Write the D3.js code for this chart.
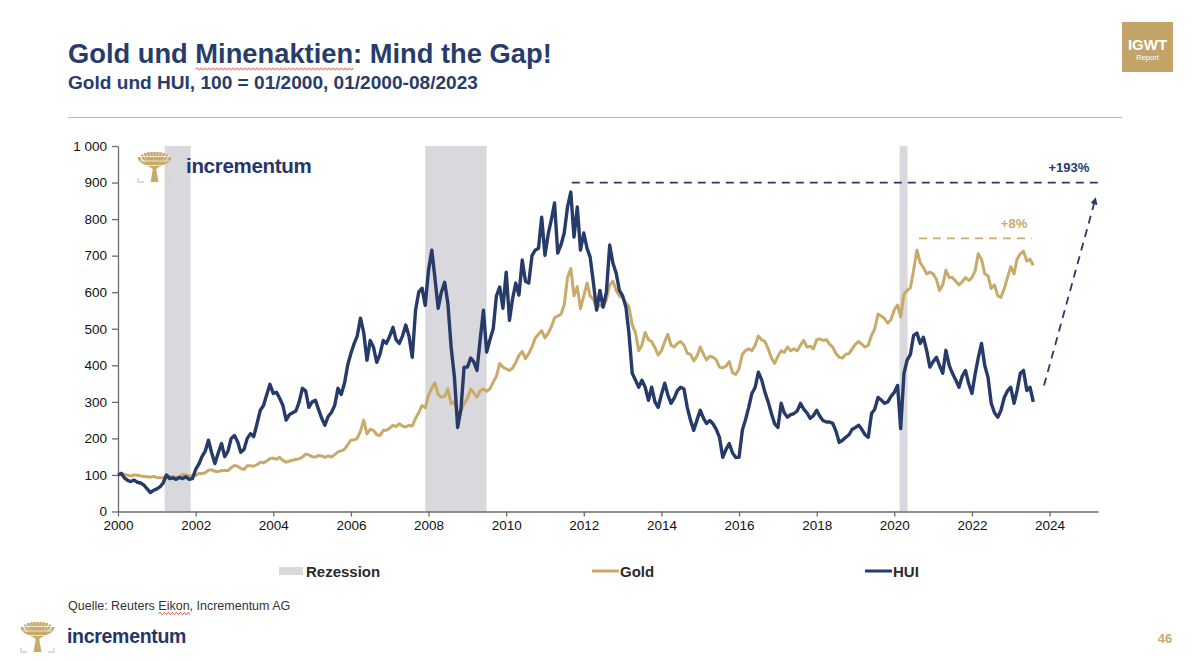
<!DOCTYPE html>
<html><head><meta charset="utf-8">
<script src="https://cdn.jsdelivr.net/npm/d3@7"></script>
<style>
body{margin:0;background:#fff}
svg{display:block}
text{font-family:"Liberation Sans",Arial,Helvetica,sans-serif}
</style>
</head><body>
<svg id="c" width="1200" height="662"></svg>
<script>
// ---------------- DATA ----------------
const seriesStart = [2000, 0]; // January 2000, monthly values
const goldValues = [
 100,105,101,99,97,100,99,97,96,95,94,96,
 93,92,92,92,96,95,94,96,101,100,97,97,
 99,104,104,106,113,114,110,109,112,112,112,120,
 126,124,118,115,125,125,124,128,135,133,138,145,
 146,143,148,140,135,138,140,143,144,149,157,155,
 150,149,153,152,148,152,149,155,163,166,170,182,
 195,196,200,220,250,212,225,222,210,208,222,222,
 228,236,232,240,234,231,236,234,255,270,290,284,
 318,338,352,320,313,315,335,295,300,270,275,295,
 310,335,325,313,330,335,329,336,354,370,405,395,
 390,386,392,408,427,438,418,432,450,475,485,495,
 475,488,505,530,535,540,565,640,665,590,615,555,
 590,625,590,580,556,565,560,580,620,630,605,590,
 585,570,560,510,490,440,455,490,470,465,448,428,
 440,465,485,455,450,460,465,455,433,430,412,425,
 450,430,415,425,422,415,395,393,398,410,380,375,
 390,430,440,445,440,455,480,470,465,445,420,405,
 425,440,435,450,440,445,440,455,468,450,452,445,
 470,472,468,470,458,450,432,422,420,430,432,445,
 458,465,458,450,455,482,500,540,535,528,515,525,
 552,565,532,595,605,612,660,715,680,668,650,655,
 650,635,605,620,660,640,640,630,620,628,640,632,
 640,660,705,690,650,645,610,620,590,586,610,640,
 670,650,690,705,712,685,690,674
];
const huiValues = [
 100,104,92,85,82,86,80,78,72,62,52,58,
 62,68,78,100,90,92,88,93,90,95,88,90,
 115,130,150,165,195,160,131,160,186,150,165,200,
 208,190,162,170,200,213,205,240,277,290,320,348,
 323,326,310,290,250,265,270,275,300,337,330,285,
 300,304,280,255,236,260,271,290,337,320,350,400,
 433,460,480,529,490,414,468,450,408,430,468,460,
 480,504,470,460,480,510,480,422,551,600,611,564,
 660,715,640,556,600,627,570,449,367,230,280,395,
 395,420,410,386,470,551,436,470,500,590,614,556,
 655,523,580,625,592,688,630,625,700,715,720,805,
 701,760,797,844,707,730,762,833,874,751,833,715,
 762,720,696,625,551,605,559,600,729,680,652,605,
 590,559,488,378,360,340,359,340,304,340,300,285,
 320,351,320,296,310,331,340,335,285,250,222,250,
 277,255,241,249,240,225,203,148,170,186,160,148,
 148,222,250,285,323,340,381,360,326,300,268,240,
 230,296,270,258,265,268,275,296,280,270,255,262,
 277,260,249,245,245,241,220,189,195,203,210,225,
 230,236,225,210,203,268,280,312,305,296,300,315,
 326,345,227,378,414,430,482,488,460,477,440,395,
 410,422,400,378,441,400,378,360,340,370,386,350,
 323,378,420,460,400,367,296,270,258,277,312,330,
 340,296,330,378,386,331,340,300
];
const recessions = [
 ["2001-03-15","2001-11-15"],
 ["2007-12-01","2009-06-30"],
 ["2020-02-20","2020-05-05"]
];
const yTicks = [0,100,200,300,400,500,600,700,800,900,1000];
const xTickYears = [2000,2002,2004,2006,2008,2010,2012,2014,2016,2018,2020,2022,2024];
const legendItems = ["Rezession","Gold","HUI"];
// annotations (data units)
const huiGapLine = {from:"2011-09-10", to:"2025-04-01", value:900, label:"+193%", labelAt:"2024-07-01", labelValue:929};
const goldGapLine = {from:"2020-08-20", to:"2023-07-15", value:747, label:"+8%", labelAt:"2023-02-01", labelValue:776};
const gapArrow = {from:["2023-11-10",345], to:["2025-03-10",858]};

// ---------------- SETUP ----------------
const svg = d3.select("#c");
const NAVY = "#263b69", GOLD = "#c8aa6a", REC = "#d9d8dd", AX = "#6b6b6b";
const parse = d3.timeParse("%Y-%m-%d");
const monthDate = i => new Date(seriesStart[0], seriesStart[1] + i, 1);

const x = d3.scaleTime().domain([new Date(2000,0,1), new Date(2025,3,1)]).range([118, 1098]);
const y = d3.scaleLinear().domain([0,1000]).range([511.5, 146]);

// header
function fitText(sel, w){
  const n = sel.node(); const fs = parseFloat(sel.attr("font-size"));
  const cur = n.getComputedTextLength(); sel.attr("font-size", (fs*w/cur).toFixed(2));
}
const title = svg.append("text").attr("x",68).attr("y",63).attr("font-size",27).attr("font-weight","bold")
  .attr("fill","#283c6a").text("Gold und Minenaktien: Mind the Gap!");
fitText(title, 484);
const sub = svg.append("text").attr("x",68).attr("y",89).attr("font-size",17).attr("font-weight","bold")
  .attr("fill","#283c6a").text("Gold und HUI, 100 = 01/2000, 01/2000-08/2023");
fitText(sub, 410);

function squiggle(x0, x1, yy){
  let d = `M${x0},${yy}`; let up = true;
  for(let xx = x0; xx < x1; xx += 2){ d += ` L${Math.min(xx+2,x1)},${yy + (up? -1.2 : 1.2)}`; up = !up; }
  svg.append("path").attr("d", d).attr("fill","none").attr("stroke","#e0473c").attr("stroke-width",0.9);
}
{
  const t = title.node(); const txt = title.text();
  const s = txt.indexOf("Minenaktien");
  const a = t.getSubStringLength(0, s), b = t.getSubStringLength(s, 11);
  squiggle(68 + a, 68 + a + b, 69);
}
svg.append("line").attr("x1",68).attr("x2",1122).attr("y1",117.5).attr("y2",117.5).attr("stroke","#cdb985").attr("stroke-width",1);

// IGWT box
svg.append("rect").attr("x",1122).attr("y",22).attr("width",51).attr("height",50).attr("fill","#c3a468");
svg.append("text").attr("x",1147.5).attr("y",50).attr("text-anchor","middle").attr("font-size",15).attr("font-weight","bold").attr("fill","#fff").text("IGWT");
svg.append("text").attr("x",1147.5).attr("y",60).attr("text-anchor","middle").attr("font-size",7.5).attr("fill","#fff").text("Report");

// tree icon: fan-shaped crown over a short trunk
function tree(x0, y0){
  const g = svg.append("g").attr("transform",`translate(${x0},${y0})`);
  const cx = 16.5, base = 19;
  for(let k = 0; k <= 10; k++){
    const f = k / 10;                       // 0..1 across the top
    const ex = 1 + f * 31;
    const ey = 1 + Math.pow(Math.abs(f - 0.5) * 2, 3) * 5;
    g.append("path").attr("d",`M${cx},${base} C${cx},${base-6} ${ex},${ey+8} ${ex.toFixed(1)},${ey.toFixed(1)}`)
     .attr("fill","none").attr("stroke",GOLD).attr("stroke-width",2.6);
  }
  [[1,5.5,32],[2,10,31],[6,14.5,27]].forEach(r=>{
    g.append("line").attr("x1",r[0]).attr("x2",r[2]).attr("y1",r[1]).attr("y2",r[1]).attr("stroke","#fff").attr("stroke-width",0.9).attr("opacity",0.75);
  });
  g.append("path").attr("d","M12.5,31 L15,17 L18,17 L20.5,31 Z").attr("fill",GOLD);
  g.append("path").attr("d","M0,27 V31 H6 M27,31 H33 V27").attr("fill","none").attr("stroke","#cfcfcf").attr("stroke-width",1.4);
  return g;
}

// ---------------- CHART ----------------
// recession bands
svg.append("g").selectAll("rect").data(recessions).join("rect")
  .attr("x", d => x(parse(d[0]))).attr("width", d => x(parse(d[1])) - x(parse(d[0])))
  .attr("y", y(1000)).attr("height", y(0) - y(1000)).attr("fill", REC);

// logo in plot
tree(138, 151);
svg.append("text").attr("x",186).attr("y",173).attr("font-size",20.5).attr("font-weight","bold").attr("fill","#24366a")
  .attr("letter-spacing",-0.3).text("incrementum");

// axes
const fmt = d3.formatLocale({decimal:",", thousands:" ", grouping:[3], currency:["","€"]}).format(",");
const yAxis = svg.append("g").attr("transform","translate(118,0)")
  .call(d3.axisLeft(y).tickValues(yTicks).tickFormat(fmt).tickSize(6).tickPadding(5).tickSizeOuter(0));
const xAxis = svg.append("g").attr("transform",`translate(0,${y(0)})`)
  .call(d3.axisBottom(x).tickValues(xTickYears.map(v=>new Date(v,0,1))).tickFormat(d3.timeFormat("%Y")).tickSize(5).tickPadding(4).tickSizeOuter(0));
[yAxis, xAxis].forEach(a=>{
  a.selectAll("path,line").attr("stroke", AX).attr("stroke-width",1.3);
  a.selectAll("text").attr("font-size",13.5).attr("fill","#111").attr("font-family",'"Liberation Sans",Arial,sans-serif');
});

// lines
const line = d3.line().x((d,i)=>x(monthDate(i))).y(d=>y(d));
svg.append("path").datum(goldValues).attr("d", line).attr("fill","none").attr("stroke",GOLD).attr("stroke-width",3).attr("stroke-linejoin","round");
svg.append("path").datum(huiValues).attr("d", line).attr("fill","none").attr("stroke",NAVY).attr("stroke-width",3.4).attr("stroke-linejoin","round");

// annotations
svg.append("line").attr("x1",x(parse(huiGapLine.from))).attr("x2",x(parse(huiGapLine.to)))
  .attr("y1",y(huiGapLine.value)).attr("y2",y(huiGapLine.value))
  .attr("stroke",NAVY).attr("stroke-width",1.8).attr("stroke-dasharray","8,6");
svg.append("text").attr("x",x(parse(huiGapLine.labelAt))).attr("y",y(huiGapLine.labelValue)).attr("text-anchor","middle")
  .attr("font-size",13).attr("font-weight","bold").attr("fill",NAVY).text(huiGapLine.label);
svg.append("line").attr("x1",x(parse(goldGapLine.from))).attr("x2",x(parse(goldGapLine.to)))
  .attr("y1",y(goldGapLine.value)).attr("y2",y(goldGapLine.value))
  .attr("stroke",GOLD).attr("stroke-width",1.8).attr("stroke-dasharray","8,6");
svg.append("text").attr("x",x(parse(goldGapLine.labelAt))).attr("y",y(goldGapLine.labelValue)).attr("text-anchor","middle")
  .attr("font-size",13).attr("font-weight","bold").attr("fill",GOLD).text(goldGapLine.label);

svg.append("defs").append("marker").attr("id","ah").attr("viewBox","0 0 10 10").attr("refX",9).attr("refY",5)
  .attr("markerWidth",4).attr("markerHeight",4).attr("orient","auto")
  .append("path").attr("d","M0,0 L10,5 L0,10 Z").attr("fill",NAVY);
svg.append("line").attr("x1",x(parse(gapArrow.from[0]))).attr("y1",y(gapArrow.from[1]))
  .attr("x2",x(parse(gapArrow.to[0]))).attr("y2",y(gapArrow.to[1]))
  .attr("stroke",NAVY).attr("stroke-width",1.8).attr("stroke-dasharray","8,6").attr("marker-end","url(#ah)");

// legend
const lg = svg.append("g");
lg.append("rect").attr("x",279).attr("y",567).attr("width",24).attr("height",8).attr("fill",REC);
lg.append("text").attr("x",306).attr("y",576.5).attr("font-size",15).attr("font-weight","bold").attr("fill","#2b2b2b").text(legendItems[0]);
lg.append("line").attr("x1",592).attr("x2",619).attr("y1",571).attr("y2",571).attr("stroke",GOLD).attr("stroke-width",3);
lg.append("text").attr("x",620).attr("y",576.5).attr("font-size",15).attr("font-weight","bold").attr("fill","#2b2b2b").text(legendItems[1]);
lg.append("line").attr("x1",865).attr("x2",892).attr("y1",571).attr("y2",571).attr("stroke",NAVY).attr("stroke-width",3);
lg.append("text").attr("x",893).attr("y",576.5).attr("font-size",15).attr("font-weight","bold").attr("fill","#2b2b2b").text(legendItems[2]);

// footer
const src = svg.append("text").attr("x",68).attr("y",610).attr("font-size",12.5).attr("fill","#333").text("Quelle: Reuters Eikon, Incrementum AG");
{
  const n = src.node(); const s = src.text().indexOf("Eikon");
  const a = n.getSubStringLength(0,s), b = n.getSubStringLength(s,5);
  squiggle(68+a, 68+a+b, 613.5);
}
tree(21, 621);
svg.append("text").attr("x",67).attr("y",643).attr("font-size",19.5).attr("font-weight","bold").attr("fill","#24366a")
  .attr("letter-spacing",-0.3).text("incrementum");
svg.append("text").attr("x",1165).attr("y",643).attr("text-anchor","middle").attr("font-size",13).attr("font-weight","bold").attr("fill",GOLD).text("46");
</script>
</body></html>
